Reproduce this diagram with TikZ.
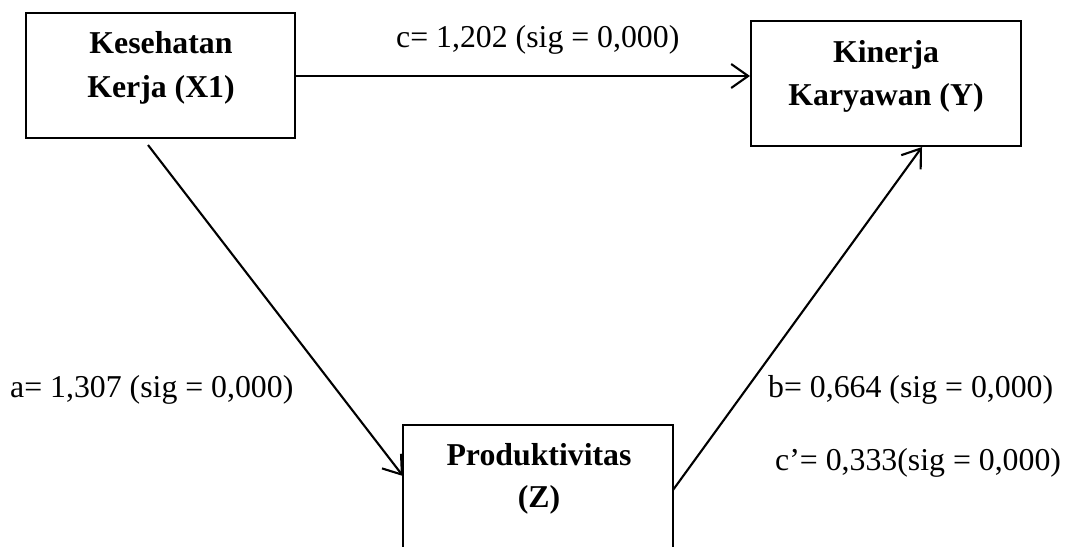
\documentclass[tikz,border=0pt]{standalone}
\usepackage{fontspec}
\setmainfont{Liberation Serif}
\usetikzlibrary{arrows.meta,calc}
\begin{document}
\begin{tikzpicture}[x=1pt,y=-1pt,
  box/.style={draw,line width=2pt,inner sep=0pt,rectangle},
  lbl/.style={inner sep=0pt,anchor=base,font=\fontsize{31.8}{38}\selectfont\bfseries},
  val/.style={inner sep=0pt,anchor=base west,font=\fontsize{31.8}{38}\selectfont},
  conn/.style={line width=2.1pt,-{Straight Barb[length=17pt,width=24pt,line width=2.1pt]}}]
\useasboundingbox (0,0) rectangle (1073,546);
% boxes
\node[box,minimum width=269pt,minimum height=125pt] (X1) at (160.5,75.5) {};
\node[box,minimum width=270pt,minimum height=125pt] (Y) at (886,83.5) {};
\node[box,minimum width=270pt,minimum height=150pt] (Z) at (538,500) {};
% box texts
\node[lbl] (x1a) at (161,53) {Kesehatan};
\node[lbl] (x1b) at (161,97) {Kerja (X1)};
\node[lbl] (ya) at (886,62) {Kinerja};
\node[lbl] (yb) at (886,105) {Karyawan (Y)};
\node[lbl] (za) at (539,465) {Produktivitas};
\node[lbl] (zb) at (539,507) {(Z)};
% connector end points
\coordinate (x1s) at (148,145);
\coordinate (zin) at (403,476);
\coordinate (zout) at (673,490);
\coordinate (yin) at (922,147);
% connectors
\draw[conn] (X1.east |- 0,76) -- (Y.west |- 0,76);
\draw[conn] (x1s) -- (zin);
\draw[conn] (zout) -- (yin);
% values
\node[val] (c) at (396,47) {c= 1,202 (sig = 0,000)};
\node[val] (a) at (10,397) {a= 1,307 (sig = 0,000)};
\node[val] (b) at (768,397) {b= 0,664 (sig = 0,000)};
\node[val] (cp) at (775,470) {c’= 0,333(sig = 0,000)};
\end{tikzpicture}
\end{document}
